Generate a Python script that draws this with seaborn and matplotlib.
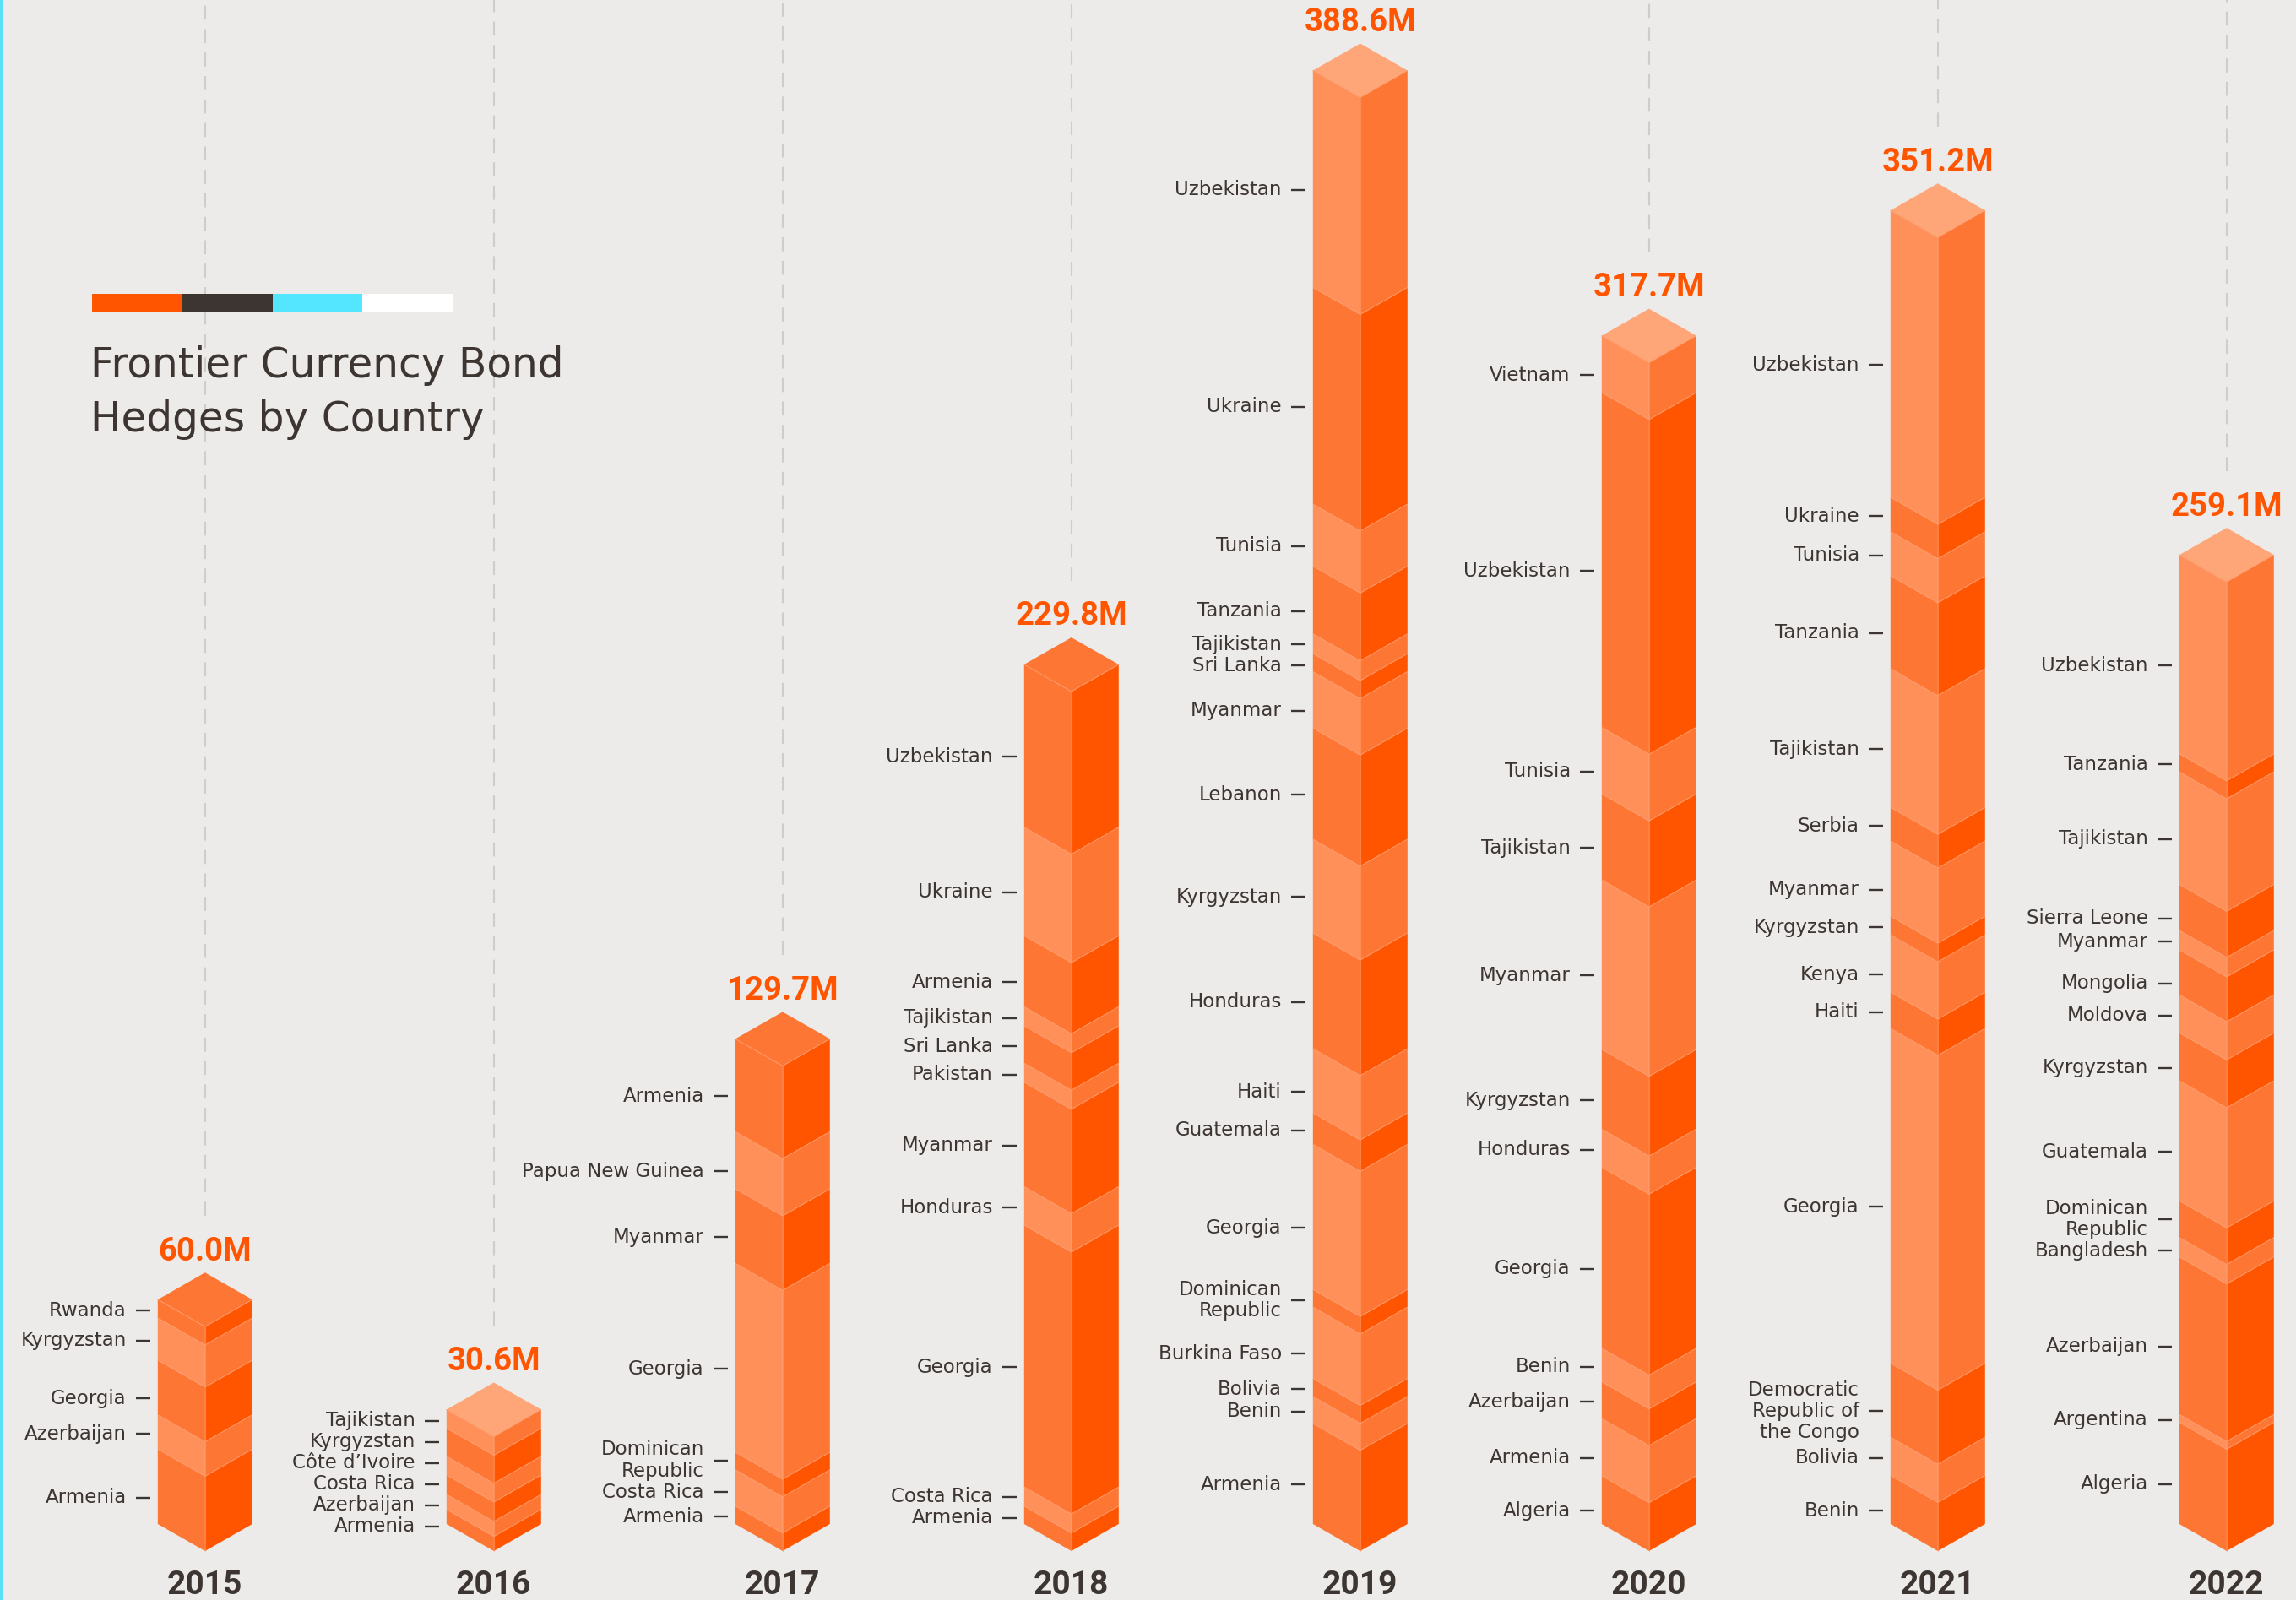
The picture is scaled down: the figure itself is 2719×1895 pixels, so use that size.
import matplotlib
matplotlib.use("Agg")
import matplotlib.pyplot as plt
from matplotlib.patches import Polygon, Rectangle
import seaborn as sns

# ---------------- data (segments listed bottom -> top) ----------------
years = ["2015", "2016", "2017", "2018", "2019", "2020", "2021", "2022"]
totals = [60.0, 30.6, 129.7, 229.8, 388.6, 317.7, 351.2, 259.1]

countries_2015 = ["Armenia", "Azerbaijan", "Georgia", "Kyrgyzstan", "Rwanda"]
values_2015 = [20.0, 9.2, 14.6, 11.3, 4.9]

countries_2016 = ["Armenia", "Azerbaijan", "Costa Rica", "Côte d’Ivoire",
                  "Kyrgyzstan", "Tajikistan"]
values_2016 = [3.9, 4.0, 5.2, 5.0, 7.5, 5.0]

countries_2017 = ["Armenia", "Costa Rica", "Dominican\nRepublic", "Georgia",
                  "Myanmar", "Papua New Guinea", "Armenia"]
values_2017 = [4.8, 9.7, 4.7, 50.5, 19.9, 15.3, 24.8]

countries_2018 = ["Armenia", "Costa Rica", "Georgia", "Honduras", "Myanmar",
                  "Pakistan", "Sri Lanka", "Tajikistan", "Armenia", "Ukraine",
                  "Uzbekistan"]
values_2018 = [4.8, 5.1, 70.0, 10.3, 27.9, 5.1, 10.0, 5.1, 19.0, 29.0, 43.5]

countries_2019 = ["Armenia", "Benin", "Bolivia", "Burkina Faso",
                  "Dominican\nRepublic", "Georgia", "Guatemala", "Haiti",
                  "Honduras", "Kyrgyzstan", "Lebanon", "Myanmar", "Sri Lanka",
                  "Tajikistan", "Tanzania", "Tunisia", "Ukraine", "Uzbekistan"]
values_2019 = [26.9, 7.2, 4.8, 19.1, 4.7, 38.8, 8.4, 17.2, 30.9, 25.1, 29.7,
               15.1, 4.8, 5.3, 18.1, 16.6, 57.9, 58.0]

countries_2020 = ["Algeria", "Armenia", "Azerbaijan", "Benin", "Georgia",
                  "Honduras", "Kyrgyzstan", "Myanmar", "Tajikistan", "Tunisia",
                  "Uzbekistan", "Vietnam"]
values_2020 = [12.9, 15.3, 9.8, 9.0, 48.4, 10.2, 21.3, 45.3, 23.0, 17.8, 89.5,
               15.2]

countries_2021 = ["Benin", "Bolivia", "Democratic\nRepublic of\nthe Congo",
                  "Georgia", "Haiti", "Kenya", "Kyrgyzstan", "Myanmar",
                  "Serbia", "Tajikistan", "Tanzania", "Tunisia", "Ukraine",
                  "Uzbekistan"]
values_2021 = [13.0, 10.2, 19.8, 89.5, 9.7, 15.3, 5.0, 20.1, 9.0, 37.1, 24.8,
               11.8, 9.2, 76.7]

countries_2022 = ["Algeria", "Argentina", "Azerbaijan", "Bangladesh",
                  "Dominican\nRepublic", "Guatemala", "Kyrgyzstan", "Moldova",
                  "Mongolia", "Myanmar", "Sierra Leone", "Tajikistan",
                  "Tanzania", "Uzbekistan"]
values_2022 = [27.2, 2.1, 42.1, 5.2, 9.8, 32.1, 12.8, 10.2, 12.0, 5.2, 12.3,
               30.1, 4.8, 53.2]

all_countries = [countries_2015, countries_2016, countries_2017, countries_2018,
                 countries_2019, countries_2020, countries_2021, countries_2022]
all_values = [values_2015, values_2016, values_2017, values_2018,
              values_2019, values_2020, values_2021, values_2022]

title_lines = ["Frontier Currency Bond", "Hedges by Country"]

# ---------------- style ----------------
BG = "#ECEBE9"
TEXT = "#3D3531"
ORANGE = "#FF5500"
DARK_L, DARK_R = "#FD7634", "#FF5500"
LIGHT_L, LIGHT_R = "#FF905A", "#FD7634"
TOP_DARK, TOP_LIGHT = "#FD7634", "#FFA679"
EDGE = "#FF9C6C"
GRID = "#D2CCC8"

sns.set_theme(style="white", rc={"axes.facecolor": BG, "figure.facecolor": BG,
                                 "savefig.facecolor": BG,
                                 "lines.scale_dashes": False})
plt.rcParams["font.family"] = ["DejaVu Sans"]

W, H = 2719, 1895
DPI = 100
fig = plt.figure(figsize=(W / DPI, H / DPI), dpi=DPI)
ax = fig.add_axes([0, 0, 1, 1])
ax.set_axis_off()

# geometry: pixel scale -> data units
PX_PER_M = 4.43      # pixels per million
BASE_PX = 1805       # pixel row of value 0 at the column's outer edge
X0_PX, STEP_PX = 242.8, 342.0
ax.set_xlim(-X0_PX / STEP_PX, (W - X0_PX) / STEP_PX)
ax.set_ylim(-(H - BASE_PX) / PX_PER_M, BASE_PX / PX_PER_M)

HW = 56 / STEP_PX            # half column width (x units)
OFF = 32 / PX_PER_M          # isometric drop (value units)
px_x = lambda p: p / STEP_PX
px_y = lambda p: p / PX_PER_M
LINE_GAP = px_y(25)


def spread(ys, nlines):
    ys = list(ys)
    for _ in range(2000):
        moved = False
        for i in range(len(ys) - 1):
            need = (nlines[i] + nlines[i + 1]) / 2 * LINE_GAP
            d = ys[i + 1] - ys[i]
            if d < need - 1e-9:
                s = (need - d) / 2
                ys[i] -= s
                ys[i + 1] += s
                moved = True
        if not moved:
            break
    return ys


for i, (names, vals) in enumerate(zip(all_countries, all_values)):
    xc = i
    xl, xr = xc - HW, xc + HW
    cum = 0.0
    mids = []
    for j, v in enumerate(vals):
        b, t = cum, cum + v
        cum = t
        dark = (j % 2 == 0)
        cl, cr = (DARK_L, DARK_R) if dark else (LIGHT_L, LIGHT_R)
        ax.add_patch(Polygon([(xl, t), (xc, t - OFF), (xc, b - OFF), (xl, b)],
                             closed=True, facecolor=cl, edgecolor="none", zorder=3))
        ax.add_patch(Polygon([(xc, t - OFF), (xr, t), (xr, b), (xc, b - OFF)],
                             closed=True, facecolor=cr, edgecolor="none", zorder=3))
        if j > 0:
            ax.plot([xl, xc, xr], [b, b - OFF, b], color=EDGE, lw=0.8,
                    alpha=0.8, zorder=4, solid_capstyle="butt")
        drop = 13 if v >= 12 else 2
        mids.append((b + t) / 2 - px_y(drop))
    T = cum
    top_dark = (len(vals) - 1) % 2 == 0
    ax.add_patch(Polygon([(xl, T), (xc, T + OFF), (xr, T), (xc, T - OFF)],
                         closed=True, facecolor=TOP_DARK if top_dark else TOP_LIGHT,
                         edgecolor="none", zorder=3))
    ax.plot([xl, xc, xr], [T, T - OFF, T], color=EDGE, lw=0.8, alpha=0.8, zorder=4)
    ax.plot([xc, xc], [-OFF, T - OFF], color=EDGE, lw=0.8, alpha=0.6, zorder=4)

    # dashed guide line from the top down to the value label
    y_end = T + OFF + px_y(67)
    if y_end < ax.get_ylim()[1]:
        ax.plot([xc, xc], [y_end, ax.get_ylim()[1]], color=GRID, lw=1.5,
                dashes=(12, 8), zorder=1)

    # total label
    ax.text(xc, T + OFF + px_y(25), f"{totals[i]:.1f}M", ha="center",
            va="center", color=ORANGE, fontsize=27.5, fontweight="bold",
            family=["Roboto", "DejaVu Sans"], zorder=5)

    # year label
    ax.text(xc, -px_y(72), years[i], ha="center", va="center", color=TEXT,
            fontsize=28, fontweight="bold", family=["Roboto", "DejaVu Sans"],
            zorder=5)

    # country labels
    nlines = [n.count("\n") + 1 for n in names]
    ys = spread(mids, nlines)
    for name, y in zip(names, ys):
        ax.text(xl - px_x(37), y, name, ha="right", va="center",
                multialignment="right", color=TEXT, fontsize=16.5,
                linespacing=1.12, zorder=5)
        ax.plot([xl - px_x(26), xl - px_x(9)], [y, y], color=TEXT, lw=1.7,
                solid_capstyle="butt", zorder=5)

# title block
bar_cols = [ORANGE, TEXT, "#55E6FF", "#FFFFFF"]
bx0, bw, by0, bh = 109, 106.75, 348, 21
for k, c in enumerate(bar_cols):
    fig.patches.append(Rectangle(((bx0 + k * bw) / W, 1 - (by0 + bh) / H),
                                 bw / W, bh / H, transform=fig.transFigure,
                                 facecolor=c, edgecolor="none", zorder=2))
for k, line in enumerate(title_lines):
    fig.text(107 / W, 1 - (433 + 64 * k) / H, line, ha="left", va="center",
             color=TEXT, fontsize=35, zorder=5)

# thin cyan edge on the left
fig.patches.append(Rectangle((0, 0), 4 / W, 1, transform=fig.transFigure,
                             facecolor="#58E1F5", edgecolor="none", zorder=2))

fig.savefig("out.png", dpi=DPI, facecolor=BG)
